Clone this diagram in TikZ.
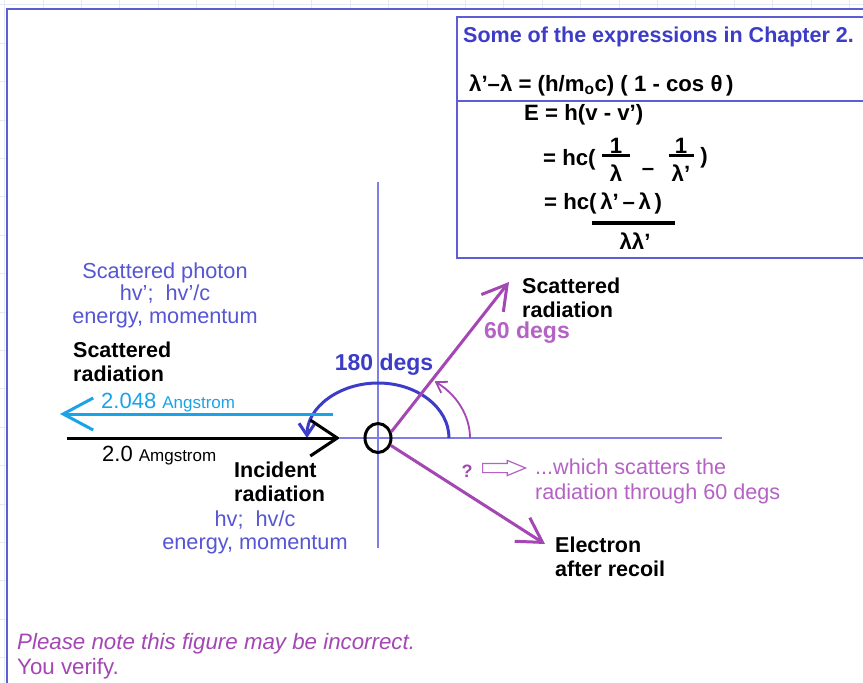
\documentclass[tikz,border=0pt]{standalone}
\usepackage{fontspec}
\setmainfont{Liberation Sans}
\usetikzlibrary{arrows.meta,positioning,calc,shapes.geometric,shapes.arrows}
\definecolor{cpblue}{HTML}{5656D4}
\definecolor{cpdeep}{HTML}{3C3CC8}
\definecolor{cpcyan}{HTML}{1BA3E8}
\definecolor{cppurple}{HTML}{A446B4}
\definecolor{cplilac}{HTML}{B462C4}
\definecolor{cpaxis}{HTML}{7E7EE6}
\definecolor{cpframe}{HTML}{5E5ED4}
\definecolor{cpgrid}{HTML}{E4EAF3}
\newcommand\lblsize{\fontsize{21.7}{24.5}\selectfont}
\newcommand\boldsize{\fontsize{21.5}{24.5}\selectfont\bfseries}
\newcommand\formsize{\fontsize{22.2}{24.5}\selectfont\bfseries}
\newcommand\degsize{\fontsize{23}{26}\selectfont\bfseries}
\newcommand\angsize{\fontsize{17}{20}\selectfont}
\tikzset{
  lbl/.style={font=\lblsize, align=left, inner sep=0pt},
  boldlbl/.style={lbl, font=\boldsize},
  formula/.style={lbl, font=\formsize},
  arr/.style={line width=3pt, -{Straight Barb[length=27pt, width=36pt]}},
  axisline/.style={cpaxis, line width=1.5pt},
}

\begin{document}
\begin{tikzpicture}[x=1pt, y=-1pt]
    \clip (0,0) rectangle (863,683);
    % sheet grid and frame
    \foreach \k in {0,...,22} {
      \draw[cpgrid] ({4.3+38.4*\k},0) -- ++(0,683);
      \draw[cpgrid] (0,{4.6+38.4*\k}) -- ++(863,0);
    }
    \fill[white] (7,9) rectangle (880,700);
    \draw[cpframe, line width=2pt] (7,700) -- (7,9) -- (880,9);

    % box of expressions
    \draw[cpframe, line width=1.5pt] (457,17) rectangle (880,258);
    \draw[cpframe, line width=1.5pt] (457,101) -- (880,101);
    \node[boldlbl, cpdeep, anchor=west] (title) at (463,37) {Some of the expressions in Chapter 2.};
    \node[formula, anchor=west] (shift) at (469,85) {λ'–λ = (h/m\textsubscript{o}c) ( 1 - cos θ\,)};
    \node[formula, anchor=west] (energy) at (524,115) {E = h(v - v')};
    \node[formula, anchor=west] (hcone) at (543,160) {= hc(};
    \node[formula, align=center, anchor=north] (fracone) at (616,138) {1\\[-21pt]\rule{28pt}{3pt}\\λ};
    \node[formula, anchor=center] (minus) at (648,172) {–};
    \node[formula, align=center, anchor=north] (fractwo) at (681,138) {1\\[-21pt]\rule{25pt}{3pt}\\λ'};
    \node[formula, anchor=center] (closeone) at (704,158) {)};
    \node[formula, anchor=west] (hctwo) at (544,203) {= hc(\,λ'\,–\,λ\,)};
    \node[inner sep=0pt] (barthree) at (633,223) {\rule{83pt}{4pt}};
    \node[formula, anchor=center] (denthree) at (635,241) {λλ'};

    % axes through the electron
    \coordinate (ytop) at (378,182);
    \coordinate (ybot) at (378,548);
    \coordinate (inctip) at (340,438);
    \coordinate (xright) at (722,438);
    \draw[axisline] (ytop) -- (ybot);
    \draw[axisline] (inctip) -- (xright);

    \node[ellipse, draw, line width=3pt, minimum width=26pt, minimum height=29pt, inner sep=0pt] (atom) at (378,438) {};

    % angle arcs
    \coordinate (halfstart) at (449,438);
    \coordinate (sixtystart) at (470,438);
    \draw[cpdeep, line width=3pt, -{Straight Barb[length=12pt, width=16pt]}] (halfstart) arc[start angle=0, end angle=180, x radius=71pt, y radius=55pt];
    \draw[cppurple, line width=1.8pt, -{Straight Barb[length=10pt, width=13pt]}] (sixtystart) arc[start angle=0, end angle=52, x radius=92pt, y radius=72pt];

    % photons and electron
    \coordinate (incstart) at (67,438);
    \coordinate (backstart) at (333,414);
    \coordinate (backtip) at (60,414);
    \coordinate (raytip) at (509,282);
    \coordinate (recoiltip) at (545,544);
    \draw[arr] (incstart) -- (inctip);
    \draw[arr, cpcyan, -{Straight Barb[length=30pt, width=32pt]}] (backstart) -- (backtip);
    \draw[arr, cppurple, -{Straight Barb[length=24pt, width=28pt]}] (atom.25) -- (raytip);
    \draw[arr, cppurple, -{Straight Barb[length=24pt, width=28pt]}] (atom.-30) -- (recoiltip);

    % labels
    \node[lbl, cpblue, align=center, font=\fontsize{21.7}{22.5}\selectfont] (photon) at (165,295) {Scattered photon\\hv';\ \ hv'/c\\energy, momentum};
    \node[boldlbl, anchor=west] (scatleft) at (73,362) {Scattered\\radiation};
    \node[lbl, cpcyan, anchor=west] (backlen) at (101,403) {{\fontsize{22}{24}\selectfont 2.048} {\angsize Angstrom}};
    \node[lbl, anchor=west] (inclen) at (102,456) {{\fontsize{22}{24}\selectfont 2.0} {\angsize Amgstrom}};
    \node[boldlbl, anchor=west] (incident) at (234,482) {Incident\\radiation};
    \node[lbl, cpblue, align=center, font=\fontsize{21.7}{23}\selectfont] (incmom) at (255,532) {hv;\ \ hv/c\\energy, momentum};
    \node[font=\degsize, cpdeep, inner sep=0pt] (halfturn) at (384,365) {180 degs};
    \node[font=\degsize, cplilac, inner sep=0pt] (sixty) at (527,333) {60 degs};
    \node[boldlbl, anchor=west] (scatright) at (522,298) {Scattered\\radiation};
    \node[font=\fontsize{18}{20}\selectfont\bfseries, cppurple, inner sep=0pt] (query) at (467,471) {?};
    \node[single arrow, draw=cplilac, line width=1.2pt, minimum height=43pt, minimum width=14pt, inner sep=4pt, single arrow head extend=3pt, single arrow tip angle=45, anchor=west] (pointer) at (482,468) {};
    \node[lbl, cplilac, anchor=west, font=\fontsize{21.6}{25}\selectfont] (which) at (535,481) {...which scatters the\\radiation through 60 degs};
    \node[boldlbl, anchor=west] (recoil) at (555,557) {Electron\\after recoil};
    \node[lbl, cppurple, anchor=west, font=\fontsize{22.3}{25}\selectfont] (caveat) at (17,656) {{\itshape Please note this figure may be incorrect.}\\You verify.};
\end{tikzpicture}
\end{document}
